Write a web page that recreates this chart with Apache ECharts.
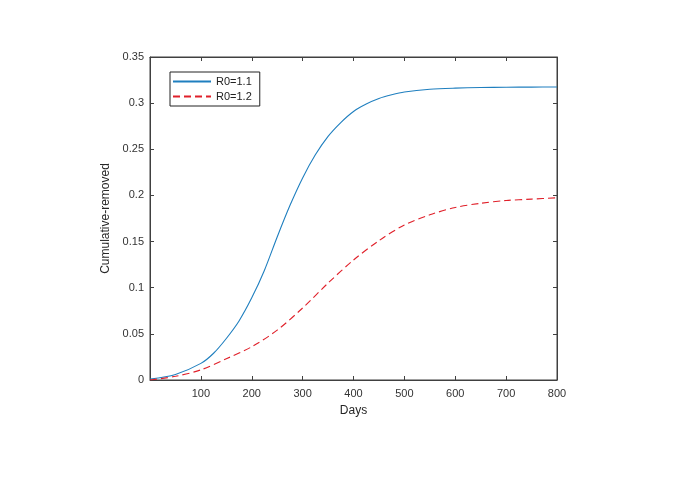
<!DOCTYPE html>
<html><head><meta charset="utf-8">
<script src="https://cdn.jsdelivr.net/npm/echarts@6/dist/echarts.min.js"></script>
<style>html,body{margin:0;padding:0;background:#fff}#c{width:692px;height:484px}</style>
</head><body><div id="c"></div>
<script>
var days = [0, 50, 100, 125, 150, 175, 200, 225, 250, 275, 300, 325, 350, 375, 400, 425, 450, 475, 500, 550, 600, 650, 700, 750, 800];
var r11 = [0.001, 0.006, 0.018, 0.029, 0.045, 0.064, 0.089, 0.119, 0.155, 0.189, 0.219, 0.244, 0.264, 0.279, 0.291, 0.299, 0.305, 0.309, 0.312, 0.315, 0.3163, 0.317, 0.3172, 0.3174, 0.3175];
var daysB = [0, 50, 100, 150, 200, 250, 300, 350, 400, 450, 500, 550, 600, 650, 700, 750, 800];
var r12 = [0, 0.004, 0.011, 0.023, 0.036, 0.054, 0.078, 0.105, 0.130, 0.151, 0.168, 0.179, 0.187, 0.1915, 0.1945, 0.196, 0.1975];
var seriesNames = ['R0=1.1', 'R0=1.2'];
var xTicks = [100, 200, 300, 400, 500, 600, 700, 800];

function pairs(xs, ys){ return xs.map(function(x,i){ return [x, ys[i]]; }); }
var axisCol = '#404040';
var font = 'Liberation Sans, Arial, sans-serif';
var chart = echarts.init(document.getElementById('c'));
chart.setOption({
  backgroundColor: '#fff',
  animation: false,
  grid: {left: 150, right: 135, top: 57, bottom: 104, show: true, borderColor: axisCol, borderWidth: 1, backgroundColor: 'transparent'},
  legend: {
    left: 170, top: 72, orient: 'vertical',
    data: [seriesNames[0], seriesNames[1]],
    itemWidth: 38, itemHeight: 10, itemGap: 4,
    padding: [4, 8, 4, 2],
    borderColor: '#222', borderWidth: 1,
    itemStyle: {opacity: 0},
    textStyle: {fontFamily: font, fontSize: 11, color: '#222'}
  },
  xAxis: [{
    type: 'value', min: 0, max: 800, interval: 100,
    name: 'Days', nameLocation: 'middle', nameGap: 25,
    nameTextStyle: {fontFamily: font, fontSize: 12, color: '#262626'},
    axisLine: {onZero: false, lineStyle: {color: axisCol, width: 1}},
    axisTick: {inside: true, length: 4, lineStyle: {color: axisCol}},
    axisLabel: {fontFamily: font, fontSize: 11, color: '#333', margin: 8,
      formatter: function(v){ return xTicks.indexOf(v) >= 0 ? String(v) : ''; }},
    splitLine: {show: false}
  }, {
    type: 'value', min: 0, max: 800, interval: 100, position: 'top',
    axisLine: {show: true, onZero: false, lineStyle: {color: axisCol, width: 1}},
    axisTick: {show: true, inside: true, length: 4, lineStyle: {color: axisCol}},
    axisLabel: {show: false}, splitLine: {show: false}
  }],
  yAxis: [{
    type: 'value', min: 0, max: 0.35, interval: 0.05,
    name: 'Cumulative-removed', nameLocation: 'middle', nameGap: 33,
    nameTextStyle: {fontFamily: font, fontSize: 12, color: '#262626'},
    axisLine: {show: true, onZero: false, lineStyle: {color: axisCol, width: 1}},
    axisTick: {show: true, inside: true, length: 4, lineStyle: {color: axisCol}},
    axisLabel: {fontFamily: font, fontSize: 11, color: '#333', margin: 6,
      formatter: function(v){ return String(+v.toFixed(2)); }},
    splitLine: {show: false}
  }, {
    type: 'value', min: 0, max: 0.35, interval: 0.05, position: 'right',
    axisLine: {show: true, onZero: false, lineStyle: {color: axisCol, width: 1}},
    axisTick: {show: true, inside: true, length: 4, lineStyle: {color: axisCol}},
    axisLabel: {show: false}, splitLine: {show: false}
  }],
  series: [{
    name: seriesNames[0], type: 'line', data: pairs(days, r11),
    smooth: 0.3, showSymbol: false, symbol: 'none',
    itemStyle: {color: '#1f7fbf'},
    lineStyle: {color: '#1f7fbf', width: 1.1}
  }, {
    name: seriesNames[1], type: 'line', data: pairs(daysB, r12),
    smooth: 0.3, showSymbol: false, symbol: 'none',
    itemStyle: {color: '#e0202a'},
    lineStyle: {color: '#e0202a', width: 1.1, type: [7, 4]}
  }, {
    name: 'frame', type: 'line', xAxisIndex: 1, yAxisIndex: 1, data: [],
    silent: true, showSymbol: false
  }]
});
</script>
</body></html>
